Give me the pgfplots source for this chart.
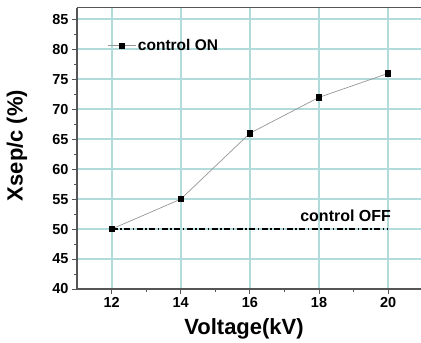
\documentclass[border=0pt]{standalone}
\usepackage{fontspec}
\setmainfont{Liberation Sans}
\usepackage{pgfplots}
\pgfplotsset{compat=1.18}
\definecolor{gridc}{RGB}{178,220,220}
\definecolor{axc}{RGB}{85,85,85}
\definecolor{linec}{RGB}{150,150,150}
\begin{document}
\begin{tikzpicture}
\begin{axis}[
  scale only axis, width=344pt, height=281.5pt,
  xmin=11, xmax=20.95, ymin=40, ymax=87,
  axis x line*=box, axis y line*=left,
  xtick={12,14,16,18,20}, ytick={40,45,...,85},
  minor x tick num=1, minor y tick num=1,
  xtick pos=bottom, ytick pos=left,
  tick align=outside,
  major tick length=5pt, minor tick length=3pt,
  tick style={axc, line width=0.8pt},
  axis line style={axc, line width=1.3pt},
  xmajorgrids=true, ymajorgrids=true,
  major grid style={gridc, line width=2pt},
  /pgf/number format/assume math mode=true,
  tick label style={font=\fontsize{14.5}{14.5}\selectfont\bfseries},
  xlabel={Voltage(kV)},
  ylabel={Xsep/c (\%)},
  label style={font=\fontsize{22}{22}\selectfont\bfseries},
  xlabel style={at={(axis description cs:0.4855,-0.142)}, anchor=center},
  ylabel style={at={(axis description cs:-0.1744,0.51)}, anchor=center},
  legend style={at={(axis cs:11.87,80.6)}, anchor=west, draw=none, fill=none,
    inner sep=0pt, font=\fontsize{15.5}{15.5}\selectfont\bfseries},
  legend cell align=left,
  legend image code/.code={\draw[mark repeat=2,mark phase=2,#1] plot coordinates {(0pt,0pt)(14pt,0pt)(28pt,0pt)};},
]
\addplot[linec, line width=0.7pt, mark=square*, mark size=2.6pt,
  mark options={black, fill=black, solid}] coordinates {
  (12,50) (14,55) (16,66) (18,72) (20,76)};
\addlegendentry{control ON}
\addplot[black, line width=1.5pt, dash pattern=on 6pt off 2.5pt on 1.5pt off 2.5pt, forget plot]
  coordinates {(12,50) (20,50)};
\node[font=\fontsize{16}{16}\selectfont\bfseries] at (axis cs:18.77,52.3) {control OFF};
\end{axis}
\pgfresetboundingbox
\path (-77pt,-54pt) rectangle (344pt,289pt);
\end{tikzpicture}
\end{document}
